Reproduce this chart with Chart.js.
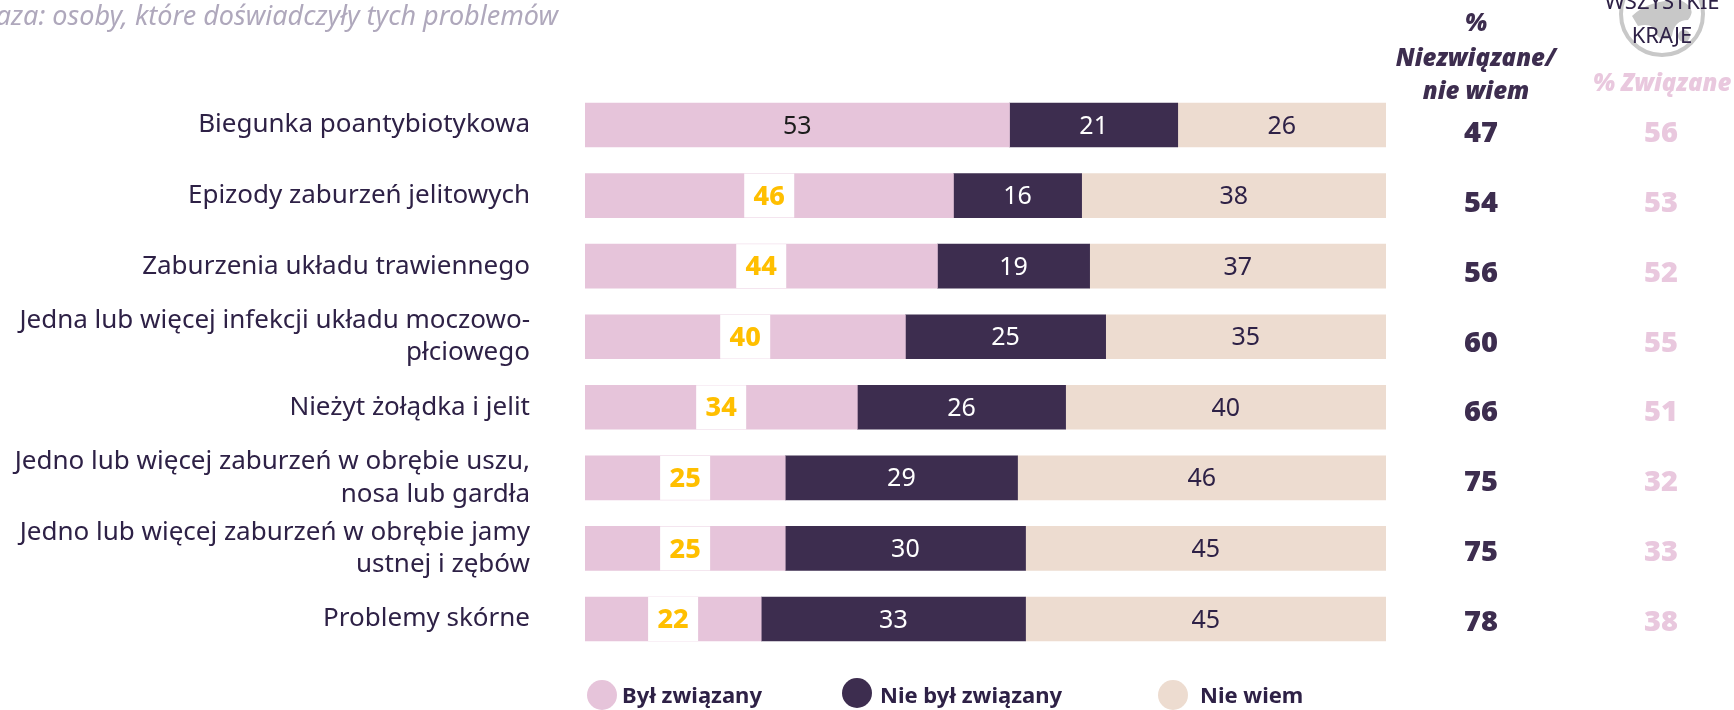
<!DOCTYPE html>
<html lang="pl">
<head>
<meta charset="utf-8">
<title>Problemy zdrowotne</title>
<script src="https://cdn.jsdelivr.net/npm/chart.js@4/dist/chart.umd.min.js"></script>
<style>
    html, body { margin: 0; padding: 0; background: #fff; overflow: hidden; }
    #chartBox { position: relative; width: 1734px; height: 710px; }
</style>
</head>
<body>
<div id="chartBox"><canvas id="problemsChart"></canvas></div>
<script>
// dane wykresu
const categories = [
    'Biegunka poantybiotykowa',
    'Epizody zaburzeń jelitowych',
    'Zaburzenia układu trawiennego',
    ['Jedna lub więcej infekcji układu moczowo-', 'płciowego'],
    'Nieżyt żołądka i jelit',
    ['Jedno lub więcej zaburzeń w obrębie uszu,', 'nosa lub gardła'],
    ['Jedno lub więcej zaburzeń w obrębie jamy', 'ustnej i zębów'],
    'Problemy skórne'
];
const seriesNames = ['Był związany', 'Nie był związany', 'Nie wiem'];
const related = [53, 46, 44, 40, 34, 25, 25, 22];
const notRelated = [21, 16, 19, 25, 26, 29, 30, 33];
const unknown = [26, 38, 37, 35, 40, 46, 45, 45];
const notRelatedOrUnknown = [47, 54, 56, 60, 66, 75, 75, 78];
const allCountries = [56, 53, 52, 55, 51, 32, 33, 38];

const PINK = '#e6c4da';
const DARK = '#3d2d4f';
const BEIGE = '#eddcd0';
const YELLOW = '#ffbf00';
const TEXT = '#2e2146';
const LIGHT_PINK = '#e9c8de';
const FONT = '"Noto Sans"';

// etykiety wartości na słupkach, pierwszy segment z białym polem
const barLabels = {
    id: 'barLabels',
    afterDatasetsDraw(chart) {
        const ctx = chart.ctx;
        ctx.save();
        ctx.textAlign = 'center';
        ctx.textBaseline = 'middle';
        chart.data.datasets.forEach((ds, d) => {
            chart.getDatasetMeta(d).data.forEach((bar, i) => {
                const cx = (bar.x + bar.base) / 2;
                const cy = bar.y + 1.5;
                if (d === 0 && i > 0) {
                    ctx.fillStyle = '#fff';
                    ctx.fillRect(cx - 25, bar.y - 22, 50, 44);
                    ctx.fillStyle = YELLOW;
                    ctx.font = `800 27px ${FONT}`;
                } else {
                    ctx.fillStyle = d === 1 ? '#fff' : (d === 0 ? '#1c1c1c' : TEXT);
                    ctx.font = `25px ${FONT}`;
                }
                ctx.fillText(ds.data[i], cx, cy);
            });
        });
        ctx.restore();
    }
};

// dwie kolumny liczb po prawej stronie z nagłówkami
const sideColumns = {
    id: 'sideColumns',
    afterDraw(chart) {
        const ctx = chart.ctx;
        const y = chart.scales.y;
        ctx.save();
        ctx.textAlign = 'center';
        ctx.textBaseline = 'middle';
        ctx.font = `900 29px ${FONT}`;
        notRelatedOrUnknown.forEach((v, i) => {
            const py = y.getPixelForValue(i) + 8.8 - i * 0.72;
            ctx.fillStyle = DARK;
            ctx.fillText(v, 1481, py);
            ctx.fillStyle = LIGHT_PINK;
            ctx.fillText(allCountries[i], 1661, py);
        });

        ctx.textBaseline = 'alphabetic';
        ctx.fillStyle = DARK;
        ctx.font = `italic 900 24px ${FONT}`;
        ctx.fillText('%', 1476, 31);
        ctx.fillText('Niezwiązane/', 1476, 66);
        ctx.fillText('nie wiem', 1476, 99);

        drawGlobe(ctx, 1662, 14, 41);

        ctx.fillStyle = TEXT;
        ctx.font = `22px ${FONT}`;
        ctx.fillText('WSZYSTKIE', 1662, 9);
        ctx.fillText('KRAJE', 1662, 43);

        ctx.fillStyle = LIGHT_PINK;
        ctx.font = `italic 900 24px ${FONT}`;
        ctx.fillText('% Związane', 1662, 91);
        ctx.restore();
    }
};

// ikona globu za nagłówkiem
function drawGlobe(ctx, cx, cy, r) {
    ctx.save();
    ctx.strokeStyle = '#c8c8c8';
    ctx.fillStyle = '#c8c8c8';
    ctx.lineWidth = 4;
    ctx.beginPath();
    ctx.arc(cx, cy, r, 0, Math.PI * 2);
    ctx.stroke();
    ctx.beginPath();
    ctx.moveTo(cx - 30, cy + 2);
    ctx.quadraticCurveTo(cx - 14, cy - 14, cx + 18, cy - 14);
    ctx.quadraticCurveTo(cx + 36, cy - 6, cx + 26, cy + 6);
    ctx.quadraticCurveTo(cx + 12, cy + 6, cx + 10, cy + 22);
    ctx.quadraticCurveTo(cx + 2, cy + 30, cx - 6, cy + 20);
    ctx.quadraticCurveTo(cx - 8, cy + 8, cx - 24, cy + 12);
    ctx.closePath();
    ctx.fill();
    ctx.beginPath();
    ctx.arc(cx + 22, cy + 22, 6, 0, Math.PI * 2);
    ctx.fill();
    ctx.restore();
}

// legenda na dole i podpis bazy
const footerLegend = {
    id: 'footerLegend',
    afterDraw(chart) {
        const ctx = chart.ctx;
        const circleX = [602, 857, 1173];
        const circleY = [695, 693, 695];
        const textX = [622, 880, 1200];
        ctx.save();
        ctx.textBaseline = 'middle';
        ctx.textAlign = 'left';
        ctx.font = `bold 22px ${FONT}`;
        seriesNames.forEach((name, i) => {
            ctx.fillStyle = chart.data.datasets[i].backgroundColor;
            ctx.beginPath();
            ctx.arc(circleX[i], circleY[i], 15, 0, Math.PI * 2);
            ctx.fill();
            ctx.fillStyle = TEXT;
            ctx.fillText(name, textX[i], 697);
        });

        ctx.textAlign = 'right';
        ctx.fillStyle = '#afa8bc';
        ctx.font = `italic 27px ${FONT}`;
        ctx.fillText('Baza: osoby, które doświadczyły tych problemów', 558, 17);
        ctx.restore();
    }
};

Chart.defaults.font.family = FONT;

new Chart(document.getElementById('problemsChart').getContext('2d'), {
    type: 'bar',
    data: {
        labels: categories,
        datasets: [
            { label: seriesNames[0], data: related, backgroundColor: PINK },
            { label: seriesNames[1], data: notRelated, backgroundColor: DARK },
            { label: seriesNames[2], data: unknown, backgroundColor: BEIGE }
        ]
    },
    options: {
        indexAxis: 'y',
        responsive: true,
        maintainAspectRatio: false,
        animation: false,
        layout: { padding: { top: 89.7, bottom: 55.7, right: 348, left: 0 } },
        plugins: { legend: { display: false }, tooltip: { enabled: false } },
        datasets: { bar: { barThickness: 44, borderWidth: 0 } },
        scales: {
            x: { stacked: true, display: false, min: 0, max: 100 },
            y: {
                stacked: true,
                afterFit(scale) {
                    scale.width = 585;
                    scale.paddingTop = 0;
                    scale.paddingBottom = 0;
                },
                grid: { display: false, drawTicks: false },
                border: { display: false },
                ticks: {
                    color: TEXT,
                    padding: 55,
                    font: { family: FONT, size: 26, lineHeight: 1.25 }
                }
            }
        }
    },
    plugins: [barLabels, sideColumns, footerLegend]
});
</script>
</body>
</html>
